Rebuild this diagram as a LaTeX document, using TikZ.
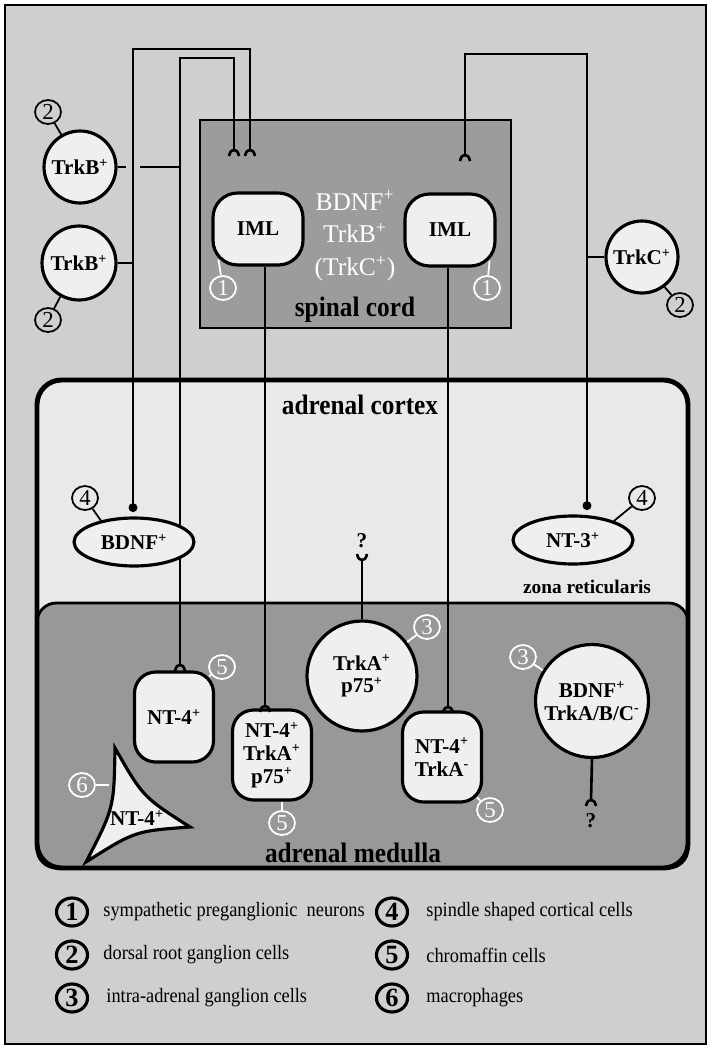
\documentclass[tikz,border=0pt]{standalone}
\usepackage{fontspec}
\setmainfont{Liberation Serif}
\newfontfamily\adnarrow[FakeStretch=0.9]{Liberation Serif}
\usepackage{tikz}
\usetikzlibrary{arrows.meta,positioning,calc,shapes.geometric}
\definecolor{adpage}{HTML}{CFCFCF}
\definecolor{adcord}{HTML}{9C9C9C}
\definecolor{adcortex}{HTML}{E9E9E9}
\definecolor{admedulla}{HTML}{989898}
\definecolor{adcell}{HTML}{EFEFEF}
\newcommand{\adcellfont}{\fontsize{12}{13}\selectfont\bfseries}
\newcommand{\adregionfont}{\adnarrow\fontsize{16}{18}\selectfont\bfseries}
\newcommand{\adkeyfont}{\adnarrow\fontsize{11.6}{13}\selectfont}
\newcommand{\adsup}{\textsuperscript{+}}
\newcommand{\adminus}{\textsuperscript{-}}
\tikzset{
  adcellbase/.style={draw, fill=adcell, line width=1.8pt, align=center,
                     font=\adcellfont, inner sep=1pt},
  adcirc/.style    ={adcellbase, circle, minimum size=#1},
  adblob/.style    ={adcellbase, rectangle, rounded corners=12pt,
                     minimum width=1.58cm, minimum height=1.8cm},
  adiml/.style     ={adcellbase, rectangle, rounded corners=14pt,
                     minimum width=1.8cm, minimum height=1.44cm},
  adpill/.style    ={adcellbase, ellipse, minimum width=2.4cm, minimum height=0.96cm},
  adtag/.style     ={ellipse, draw, line width=1pt, inner sep=0pt, minimum width=0.52cm,
                     minimum height=0.48cm, font=\fontsize{13}{13}\selectfont},
  adtagw/.style    ={adtag, draw=white, text=white},
  adtagline/.style ={line width=1pt},
  adtaglinew/.style={adtagline, draw=white},
  adaxon/.style    ={line width=1.5pt},
  addot/.style     ={adaxon, -{Circle[length=5pt]}},
  adkey/.style     ={ellipse, draw, line width=1.8pt, inner sep=0pt, minimum width=0.62cm,
                     minimum height=0.56cm, font=\fontsize{15}{15}\selectfont\bfseries},
  adkeytxt/.style  ={font=\adkeyfont, inner sep=0pt},
  adregion/.style  ={font=\adregionfont},
  adquery/.style   ={font=\adcellfont},
}
% synapse ending, drawn pointing down unless flipped
\newcommand{\adfork}[2]{%
  \begin{scope}[shift={#1},#2]
    \draw[adaxon] (-5,6) .. controls (-4,1) and (-2,0) .. (0,0)
                         .. controls (2,0) and (4,1) .. (5,6);
  \end{scope}}

\begin{document}
\begin{tikzpicture}[x=0.02cm, y=-0.02cm]
  \useasboundingbox (0,0) rectangle (707,1045);
  \fill[white] (0,0) rectangle (707,1045);
  \filldraw[fill=adpage, line width=1pt] (5,5) rectangle (706,1044);

  % compartments
  \filldraw[fill=adcord, line width=1.7pt] (200,120) rectangle (511,328);
  \fill[adcortex, rounded corners=14pt] (37,380) rectangle (688,868);
  \filldraw[fill=admedulla, line width=1.6pt, rounded corners=11pt] (37,603) rectangle (688,868);
  \draw[line width=2.8pt, rounded corners=14pt] (37,380) rectangle (688,868);

  % fork and dot ends
  \coordinate (forkA) at (250,150);
  \coordinate (forkB) at (234,150);
  \coordinate (forkC) at (465,155);
  \coordinate (forkD) at (180,665);
  \coordinate (forkE) at (265,706);
  \coordinate (forkF) at (448,707);
  \coordinate (forkG) at (362,560);
  \coordinate (forkH) at (591,800);
  \coordinate (dotA) at (133,512);
  \coordinate (dotB) at (587,510);

  % long afferents
  \draw[addot] (forkA) |- (133,49) -- (dotA);
  \draw[adaxon] (forkB) |- (180,58) -- (forkD);
  \draw[addot] (forkC) |- (587,54) -- (dotB);

  % cells
  \node[adcirc=1.44cm] (trkbA) at (80,167) {TrkB\adsup};
  \node[adcirc=1.48cm] (trkbB) at (79,263) {TrkB\adsup};
  \node[adcirc=1.44cm] (trkc) at (642,257) {TrkC\adsup};
  \node[adiml] (imlL) at (258,229) {IML};
  \node[adiml] (imlR) at (450,230) {IML};
  \node[adpill] (bdnfC) at (134,542) {BDNF\adsup};
  \node[adpill] (nt3C) at (573,540) {NT-3\adsup};
  \node[adcirc=2.2cm] (trkaG) at (362,676) {TrkA\adsup\\p75\adsup};
  \node[adcirc=2.26cm] (bdnfG) at (592,701) {BDNF\adsup\\TrkA/B/C\adminus};
  \node[adblob] (nt4A) at (174,717) {NT-4\adsup};
  \node[adblob] (nt4B) at (272,755) {NT-4\adsup\\TrkA\adsup\\p75\adsup};
  \node[adblob] (nt4C) at (442,757) {NT-4\adsup\\TrkA\adminus};
  \filldraw[fill=adcell, line width=1.8pt] (115,748) .. controls (143,797) .. (190,827)
     .. controls (135,831) .. (86,862) .. controls (114,808) .. (115,748) -- cycle;
  \node[font=\adcellfont, inner sep=0pt] (macL) at (137,818) {NT-4\adsup};
  \coordinate (macEdge) at (109,785);

  % short connectors
  \draw[adaxon] (trkbA.east) -- (126,167);
  \draw[adaxon] (140,167) -- (180,167);
  \draw[adaxon] (trkbB.east) -- (133,263);
  \draw[adaxon] (587,257) -- (trkc.west);
  \draw[adaxon] (imlL.south -| forkE) -- (forkE);
  \draw[adaxon] (imlR.south -| forkF) -- (forkF);
  \draw[adaxon] (trkaG.north) -- (forkG);
  \draw[adaxon] (bdnfG.south) -- (forkH);
  \adfork{(forkA)}{}
  \adfork{(forkB)}{}
  \adfork{(forkC)}{}
  \adfork{(forkD)}{}
  \adfork{(forkE)}{}
  \adfork{(forkF)}{}
  \adfork{(forkG)}{yscale=-1}
  \adfork{(forkH)}{}
  \node[adquery] (qTop) at (362,541) {?};
  \node[adquery] (qBot) at (591,821) {?};

  % cell type tags
  \node[adtag] (t2a) at (48,112) {2};
  \node[adtag] (t2b) at (48,320) {2};
  \node[adtag] (t2c) at (680,305) {2};
  \node[adtagw] (t1a) at (223,288) {1};
  \node[adtagw] (t1b) at (487,288) {1};
  \node[adtag] (t4a) at (85,498) {4};
  \node[adtag] (t4b) at (642,498) {4};
  \node[adtagw] (t3a) at (427,627) {3};
  \node[adtagw] (t3b) at (523,657) {3};
  \node[adtagw] (t5a) at (222,667) {5};
  \node[adtagw] (t5b) at (282,823) {5};
  \node[adtagw] (t5c) at (490,810) {5};
  \node[adtagw] (t6) at (82,785) {6};
  \draw[adtagline] (trkbA.120) -- (t2a);
  \draw[adtagline] (trkbB.241) -- (t2b);
  \draw[adtagline] (trkc.307) -- (t2c);
  \draw[adtaglinew] ($(imlL.south west)+(7,-7)$) -- (t1a);
  \draw[adtaglinew] ($(imlR.south east)+(-7,-7)$) -- (t1b);
  \draw[adtagline] (bdnfC.147) -- (t4a);
  \draw[adtagline] (nt3C.25) -- (t4b);
  \draw[adtaglinew] (trkaG.37) -- (t3a);
  \draw[adtaglinew] (bdnfG.148) -- (t3b);
  \draw[adtaglinew] ($(nt4A.north east)+(-6,6)$) -- (t5a);
  \draw[adtaglinew] (t5b.north) -- (t5b.north |- nt4B.south);
  \draw[adtaglinew] ($(nt4C.south east)+(-6,-6)$) -- (t5c);
  \draw[adtaglinew] (macEdge) -- (t6);

  % region names
  \node[text=white, align=center, font=\fontsize{14.5}{18.7}\selectfont]
       (cordMark) at (355,236) {BDNF\adsup\\TrkB\adsup\\(TrkC\adsup)};
  \node[adregion] (cordLbl) at (355,310) {spinal cord};
  \node[adregion] (cortexLbl) at (360,405) {adrenal cortex};
  \node[font=\fontsize{11}{12}\selectfont\bfseries] (zonaLbl) at (587,587) {zona reticularis};
  \node[adregion] (medullaLbl) at (353,853) {adrenal medulla};

  % key
  \node[adkey] (k1) at (72,912) {1};
  \node[adkey] (k2) at (72,955) {2};
  \node[adkey] (k3) at (72,998) {3};
  \node[adkey] (k4) at (392,912) {4};
  \node[adkey] (k5) at (392,955) {5};
  \node[adkey] (k6) at (392,998) {6};
  \node[adkeytxt, right=0.28cm of k1] (k1t) {sympathetic preganglionic~ neurons};
  \node[adkeytxt, right=0.28cm of k2] (k2t) {dorsal root ganglion cells};
  \node[adkeytxt, right=0.34cm of k3] (k3t) {intra-adrenal ganglion cells};
  \node[adkeytxt, right=0.34cm of k4] (k4t) {spindle shaped cortical cells};
  \node[adkeytxt, right=0.34cm of k5] (k5t) {chromaffin cells};
  \node[adkeytxt, right=0.34cm of k6] (k6t) {macrophages};
\end{tikzpicture}
\end{document}
